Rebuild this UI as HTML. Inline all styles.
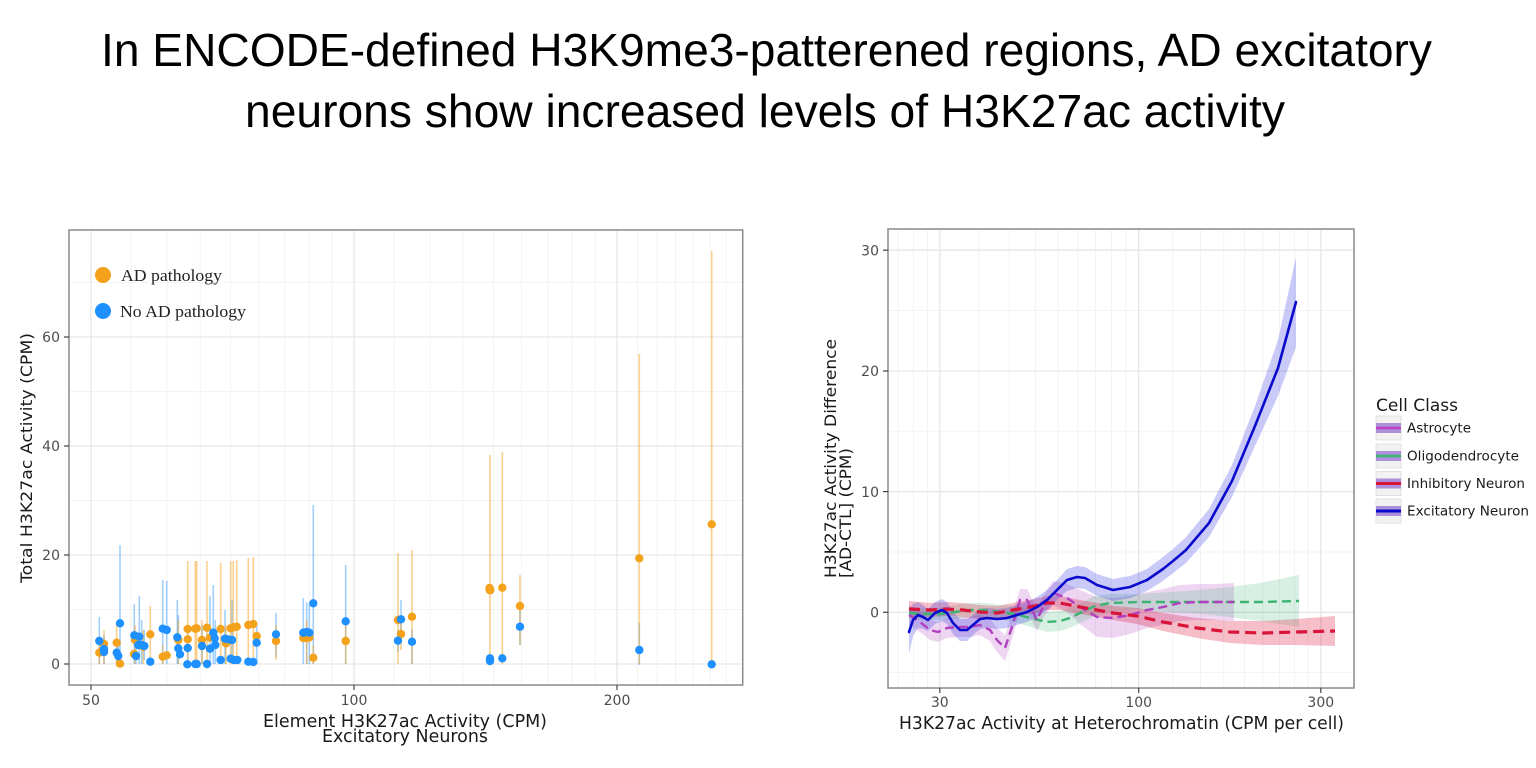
<!DOCTYPE html>
<html>
<head>
<meta charset="utf-8">
<style>
html,body{margin:0;padding:0;background:#fff;}
svg{display:block;}
text{font-family:"DejaVu Sans","Liberation Sans",sans-serif;}
</style>
</head>
<body>
<svg width="1536" height="768" viewBox="0 0 1536 768" xmlns="http://www.w3.org/2000/svg">
<rect width="1536" height="768" fill="#fff"/>

<!-- Title -->
<text x="101" y="66" font-family="Liberation Sans, sans-serif" font-size="46" fill="#000" textLength="1331" lengthAdjust="spacingAndGlyphs" style="font-family:'Liberation Sans',sans-serif">In ENCODE-defined H3K9me3-patterened regions, AD excitatory</text>
<text x="245" y="127" font-size="46" fill="#000" textLength="1040" lengthAdjust="spacingAndGlyphs" style="font-family:'Liberation Sans',sans-serif">neurons show increased levels of H3K27ac activity</text>

<!-- ================= LEFT PLOT ================= -->
<g>
<!-- minor grid -->
<g stroke="#f3f3f3" stroke-width="1">
<line x1="69" y1="609.5" x2="742.7" y2="609.5"/>
<line x1="69" y1="500.5" x2="742.7" y2="500.5"/>
<line x1="69" y1="391.5" x2="742.7" y2="391.5"/>
<line x1="69" y1="282.5" x2="742.7" y2="282.5"/>
<line x1="131" y1="230" x2="131" y2="685"/>
<line x1="167.1" y1="230" x2="167.1" y2="685"/>
<line x1="200.2" y1="230" x2="200.2" y2="685"/>
<line x1="230.5" y1="230" x2="230.5" y2="685"/>
<line x1="258.7" y1="230" x2="258.7" y2="685"/>
<line x1="284.8" y1="230" x2="284.8" y2="685"/>
<line x1="309.3" y1="230" x2="309.3" y2="685"/>
<line x1="332.3" y1="230" x2="332.3" y2="685"/>
<line x1="394" y1="230" x2="394" y2="685"/>
<line x1="430.2" y1="230" x2="430.2" y2="685"/>
<line x1="463.1" y1="230" x2="463.1" y2="685"/>
<line x1="493.5" y1="230" x2="493.5" y2="685"/>
<line x1="521.6" y1="230" x2="521.6" y2="685"/>
<line x1="547.8" y1="230" x2="547.8" y2="685"/>
<line x1="572.3" y1="230" x2="572.3" y2="685"/>
<line x1="595.3" y1="230" x2="595.3" y2="685"/>
<line x1="637.5" y1="230" x2="637.5" y2="685"/>
<line x1="657" y1="230" x2="657" y2="685"/>
<line x1="675.5" y1="230" x2="675.5" y2="685"/>
<line x1="693.1" y1="230" x2="693.1" y2="685"/>
<line x1="710.1" y1="230" x2="710.1" y2="685"/>
<line x1="726.2" y1="230" x2="726.2" y2="685"/>
</g>
<!-- major grid -->
<g stroke="#e6e6e6" stroke-width="1.3">
<line x1="69" y1="664" x2="742.7" y2="664"/>
<line x1="69" y1="555" x2="742.7" y2="555"/>
<line x1="69" y1="446" x2="742.7" y2="446"/>
<line x1="69" y1="337" x2="742.7" y2="337"/>
<line x1="91" y1="230" x2="91" y2="685"/>
<line x1="354" y1="230" x2="354" y2="685"/>
<line x1="617" y1="230" x2="617" y2="685"/>
</g>

<!-- error bars blue -->
<g stroke="#1e90ff" stroke-opacity="0.42" stroke-width="1.6">
<line x1="99.3" y1="617" x2="99.3" y2="664"/>
<line x1="104" y1="635" x2="104" y2="664"/>
<line x1="116.7" y1="640" x2="116.7" y2="664"/>
<line x1="118.3" y1="645" x2="118.3" y2="664"/>
<line x1="120" y1="545" x2="120" y2="664"/>
<line x1="134.3" y1="604" x2="134.3" y2="664"/>
<line x1="136" y1="640" x2="136" y2="664"/>
<line x1="139.3" y1="596" x2="139.3" y2="664"/>
<line x1="141.7" y1="620" x2="141.7" y2="664"/>
<line x1="144.3" y1="630" x2="144.3" y2="660"/>
<line x1="162.7" y1="580" x2="162.7" y2="664"/>
<line x1="166.7" y1="581" x2="166.7" y2="664"/>
<line x1="177.3" y1="600" x2="177.3" y2="664"/>
<line x1="178.3" y1="615" x2="178.3" y2="664"/>
<line x1="187.7" y1="630" x2="187.7" y2="664"/>
<line x1="202" y1="625" x2="202" y2="664"/>
<line x1="210" y1="596" x2="210" y2="664"/>
<line x1="213.3" y1="585" x2="213.3" y2="664"/>
<line x1="215.3" y1="620" x2="215.3" y2="664"/>
<line x1="225" y1="610" x2="225" y2="664"/>
<line x1="232" y1="600" x2="232" y2="664"/>
<line x1="256.7" y1="625" x2="256.7" y2="664"/>
<line x1="276" y1="613" x2="276" y2="657"/>
<line x1="303.3" y1="598" x2="303.3" y2="664"/>
<line x1="306.7" y1="602" x2="306.7" y2="664"/>
<line x1="309.3" y1="604" x2="309.3" y2="664"/>
<line x1="313.3" y1="505" x2="313.3" y2="664"/>
<line x1="345.7" y1="565" x2="345.7" y2="664"/>
<line x1="401" y1="600" x2="401" y2="640"/>
<line x1="398" y1="630" x2="398" y2="652"/>
<line x1="412" y1="630" x2="412" y2="664"/>
<line x1="520" y1="610" x2="520" y2="645"/>
<line x1="639.3" y1="623" x2="639.3" y2="665"/>
</g>
<!-- error bars orange -->
<g stroke="#f4a21c" stroke-opacity="0.5" stroke-width="1.6">
<line x1="99.3" y1="640" x2="99.3" y2="664"/>
<line x1="104" y1="630" x2="104" y2="664"/>
<line x1="116.7" y1="625" x2="116.7" y2="664"/>
<line x1="135" y1="625" x2="135" y2="664"/>
<line x1="143.3" y1="630" x2="143.3" y2="664"/>
<line x1="150.3" y1="606" x2="150.3" y2="664"/>
<line x1="162.7" y1="645" x2="162.7" y2="664"/>
<line x1="178.3" y1="620" x2="178.3" y2="664"/>
<line x1="187.7" y1="561" x2="187.7" y2="664"/>
<line x1="195.3" y1="561" x2="195.3" y2="664"/>
<line x1="196.7" y1="561" x2="196.7" y2="664"/>
<line x1="202" y1="620" x2="202" y2="664"/>
<line x1="207" y1="561" x2="207" y2="664"/>
<line x1="220.7" y1="563" x2="220.7" y2="664"/>
<line x1="226" y1="625" x2="226" y2="664"/>
<line x1="230.7" y1="561" x2="230.7" y2="664"/>
<line x1="233.3" y1="561" x2="233.3" y2="664"/>
<line x1="236.7" y1="560" x2="236.7" y2="664"/>
<line x1="248.3" y1="558" x2="248.3" y2="664"/>
<line x1="253.3" y1="557" x2="253.3" y2="664"/>
<line x1="276" y1="625" x2="276" y2="660"/>
<line x1="306.7" y1="620" x2="306.7" y2="664"/>
<line x1="313.3" y1="645" x2="313.3" y2="664"/>
<line x1="345.7" y1="620" x2="345.7" y2="664"/>
<line x1="398" y1="553" x2="398" y2="664"/>
<line x1="401" y1="620" x2="401" y2="650"/>
<line x1="412" y1="550" x2="412" y2="664"/>
<line x1="490" y1="455" x2="490" y2="664"/>
<line x1="502.3" y1="452" x2="502.3" y2="664"/>
<line x1="520" y1="575" x2="520" y2="645"/>
<line x1="639.3" y1="354" x2="639.3" y2="664"/>
<line x1="711.7" y1="251" x2="711.7" y2="664"/>
</g>

<!-- orange points -->
<g fill="#f4a21c">
<circle cx="99.3" cy="652.7" r="4.2"/>
<circle cx="104" cy="644" r="4.2"/>
<circle cx="116.7" cy="642.7" r="4.2"/>
<circle cx="120" cy="663.7" r="4.2"/>
<circle cx="135" cy="640" r="4.2"/>
<circle cx="134" cy="654" r="4.2"/>
<circle cx="143.3" cy="646.7" r="4.2"/>
<circle cx="150.3" cy="634.3" r="4.2"/>
<circle cx="162.7" cy="656.7" r="4.2"/>
<circle cx="166.7" cy="655.3" r="4.2"/>
<circle cx="178.3" cy="640" r="4.2"/>
<circle cx="187.7" cy="629" r="4.2"/>
<circle cx="187.7" cy="639.3" r="4.2"/>
<circle cx="195.3" cy="628.7" r="4.2"/>
<circle cx="196.7" cy="628.3" r="4.2"/>
<circle cx="202" cy="640" r="4.2"/>
<circle cx="207" cy="627.7" r="4.2"/>
<circle cx="210" cy="637.7" r="4.2"/>
<circle cx="220.7" cy="629" r="4.2"/>
<circle cx="226" cy="643.3" r="4.2"/>
<circle cx="230.7" cy="628.3" r="4.2"/>
<circle cx="233.3" cy="627.3" r="4.2"/>
<circle cx="236.7" cy="626.7" r="4.2"/>
<circle cx="248.3" cy="625" r="4.2"/>
<circle cx="253.3" cy="624" r="4.2"/>
<circle cx="256.7" cy="636" r="4.2"/>
<circle cx="276" cy="641" r="4.2"/>
<circle cx="303.3" cy="638" r="4.2"/>
<circle cx="306.7" cy="638" r="4.2"/>
<circle cx="309.3" cy="637.5" r="4.2"/>
<circle cx="313.3" cy="657.7" r="4.2"/>
<circle cx="345.7" cy="641" r="4.2"/>
<circle cx="398" cy="620" r="4.2"/>
<circle cx="401" cy="634" r="4.2"/>
<circle cx="412" cy="616.7" r="4.2"/>
<circle cx="490" cy="590" r="4.5"/>
<circle cx="489.5" cy="588" r="4.2"/>
<circle cx="502.3" cy="587.7" r="4.2"/>
<circle cx="520" cy="606" r="4.2"/>
<circle cx="639.3" cy="558.3" r="4.2"/>
<circle cx="711.7" cy="524.3" r="4.2"/>
</g>
<!-- blue points -->
<g fill="#1e90ff">
<circle cx="99.3" cy="641" r="4.2"/>
<circle cx="104" cy="652" r="4.2"/>
<circle cx="104" cy="649" r="4.2"/>
<circle cx="116.7" cy="652.7" r="4.2"/>
<circle cx="118.3" cy="656" r="4.2"/>
<circle cx="120" cy="623.3" r="4.2"/>
<circle cx="134.3" cy="635.3" r="4.2"/>
<circle cx="136" cy="656" r="4.2"/>
<circle cx="139.3" cy="636.7" r="4.2"/>
<circle cx="138.3" cy="645" r="4.2"/>
<circle cx="141.7" cy="645" r="4.2"/>
<circle cx="144.3" cy="646" r="4.2"/>
<circle cx="150.3" cy="661.7" r="4.2"/>
<circle cx="162.7" cy="628.7" r="4.2"/>
<circle cx="166.7" cy="630" r="4.2"/>
<circle cx="177.3" cy="637.3" r="4.2"/>
<circle cx="178.3" cy="648.3" r="4.2"/>
<circle cx="180" cy="654.3" r="4.2"/>
<circle cx="187.7" cy="648" r="4.2"/>
<circle cx="187.3" cy="664.3" r="4.2"/>
<circle cx="195.3" cy="664" r="4.2"/>
<circle cx="196.7" cy="664" r="4.2"/>
<circle cx="202" cy="646" r="4.2"/>
<circle cx="207" cy="664" r="4.2"/>
<circle cx="210" cy="648.7" r="4.2"/>
<circle cx="213.3" cy="632.7" r="4.2"/>
<circle cx="214.7" cy="638.3" r="4.2"/>
<circle cx="215.3" cy="645" r="4.2"/>
<circle cx="220.7" cy="660" r="4.2"/>
<circle cx="225" cy="638.7" r="4.2"/>
<circle cx="228" cy="639.3" r="4.2"/>
<circle cx="232" cy="640" r="4.2"/>
<circle cx="230.7" cy="658.7" r="4.2"/>
<circle cx="234" cy="660" r="4.2"/>
<circle cx="237.3" cy="660" r="4.2"/>
<circle cx="248.3" cy="661.7" r="4.2"/>
<circle cx="253.3" cy="662" r="4.2"/>
<circle cx="256.7" cy="642.7" r="4.2"/>
<circle cx="276" cy="634.3" r="4.2"/>
<circle cx="303.3" cy="632.7" r="4.2"/>
<circle cx="306.7" cy="632" r="4.2"/>
<circle cx="309.3" cy="632.7" r="4.2"/>
<circle cx="313.3" cy="603.3" r="4.2"/>
<circle cx="345.7" cy="621.3" r="4.2"/>
<circle cx="401" cy="619.3" r="4.2"/>
<circle cx="398" cy="640.7" r="4.2"/>
<circle cx="412" cy="641.7" r="4.2"/>
<circle cx="490" cy="658.3" r="4.2"/>
<circle cx="490" cy="661" r="4.2"/>
<circle cx="502.3" cy="658.3" r="4.2"/>
<circle cx="520" cy="626.7" r="4.2"/>
<circle cx="639.3" cy="650" r="4.2"/>
<circle cx="711.7" cy="664.3" r="4.2"/>
</g>

<!-- frame -->
<rect x="69" y="230" width="673.7" height="455" fill="none" stroke="#8a8a8a" stroke-width="1.5"/>
<!-- ticks -->
<g stroke="#444" stroke-width="1.2">
<line x1="64" y1="664" x2="69" y2="664"/>
<line x1="64" y1="555" x2="69" y2="555"/>
<line x1="64" y1="446" x2="69" y2="446"/>
<line x1="64" y1="337" x2="69" y2="337"/>
<line x1="91" y1="685" x2="91" y2="690"/>
<line x1="354" y1="685" x2="354" y2="690"/>
<line x1="617" y1="685" x2="617" y2="690"/>
</g>
<g font-size="14" fill="#4d4d4d">
<text x="60" y="669" text-anchor="end">0</text>
<text x="60" y="560" text-anchor="end">20</text>
<text x="60" y="451" text-anchor="end">40</text>
<text x="60" y="342" text-anchor="end">60</text>
<text x="91" y="705" text-anchor="middle">50</text>
<text x="354" y="705" text-anchor="middle">100</text>
<text x="617" y="705" text-anchor="middle">200</text>
</g>
<text x="405" y="727" font-size="18" fill="#1a1a1a" text-anchor="middle" textLength="284" lengthAdjust="spacingAndGlyphs">Element H3K27ac Activity (CPM)</text>
<text x="405" y="742" font-size="18" fill="#1a1a1a" text-anchor="middle" textLength="166" lengthAdjust="spacingAndGlyphs">Excitatory Neurons</text>
<text transform="translate(32,458) rotate(-90)" x="0" y="0" font-size="16" fill="#1a1a1a" text-anchor="middle" textLength="250" lengthAdjust="spacingAndGlyphs">Total H3K27ac Activity (CPM)</text>

<!-- legend -->
<circle cx="103" cy="275" r="8" fill="#f4a21c"/>
<circle cx="103" cy="311" r="8" fill="#1e90ff"/>
<text x="121" y="281" font-size="17" fill="#222" textLength="101" lengthAdjust="spacingAndGlyphs" style="font-family:'Liberation Serif',serif">AD pathology</text>
<text x="120" y="317" font-size="17" fill="#222" textLength="126" lengthAdjust="spacingAndGlyphs" style="font-family:'Liberation Serif',serif">No AD pathology</text>
</g>

<!-- ================= RIGHT PLOT ================= -->
<g>
<g stroke="#f3f3f3" stroke-width="1">
<line x1="888" y1="310.6" x2="1354" y2="310.6"/>
<line x1="888" y1="431.3" x2="1354" y2="431.3"/>
<line x1="888" y1="552" x2="1354" y2="552"/>
<line x1="888" y1="672.6" x2="1354" y2="672.6"/>
<line x1="898" y1="229" x2="898" y2="688"/>
<line x1="913.5" y1="229" x2="913.5" y2="688"/>
<line x1="927.5" y1="229" x2="927.5" y2="688"/>
<line x1="979" y1="229" x2="979" y2="688"/>
<line x1="1009.3" y1="229" x2="1009.3" y2="688"/>
<line x1="1035.5" y1="229" x2="1035.5" y2="688"/>
<line x1="1058.2" y1="229" x2="1058.2" y2="688"/>
<line x1="1078" y1="229" x2="1078" y2="688"/>
<line x1="1095.5" y1="229" x2="1095.5" y2="688"/>
<line x1="1111.5" y1="229" x2="1111.5" y2="688"/>
<line x1="1126" y1="229" x2="1126" y2="688"/>
<line x1="1172.8" y1="229" x2="1172.8" y2="688"/>
<line x1="1200.5" y1="229" x2="1200.5" y2="688"/>
<line x1="1223.8" y1="229" x2="1223.8" y2="688"/>
<line x1="1244.5" y1="229" x2="1244.5" y2="688"/>
<line x1="1263" y1="229" x2="1263" y2="688"/>
<line x1="1279.5" y1="229" x2="1279.5" y2="688"/>
<line x1="1294.5" y1="229" x2="1294.5" y2="688"/>
<line x1="1308.3" y1="229" x2="1308.3" y2="688"/>
</g>
<g stroke="#e6e6e6" stroke-width="1.3">
<line x1="888" y1="250.2" x2="1354" y2="250.2"/>
<line x1="888" y1="371" x2="1354" y2="371"/>
<line x1="888" y1="491.6" x2="1354" y2="491.6"/>
<line x1="888" y1="612.3" x2="1354" y2="612.3"/>
<line x1="939.8" y1="229" x2="939.8" y2="688"/>
<line x1="1138.7" y1="229" x2="1138.7" y2="688"/>
<line x1="1320.8" y1="229" x2="1320.8" y2="688"/>
</g>

<!-- bands -->
<polygon fill="#b040c0" fill-opacity="0.22" points="909,605 920,612 930,620 938,622 947,618 957,617 970,617 980,615 990,619 997,628 1005,635 1012,615 1020,589 1027,589 1037,609 1043,596 1053,581 1067,584 1080,590 1097,597 1113,598 1130,596 1147,592 1163,589 1180,585 1197,584 1217,584 1234,583 1234,621 1217,620 1197,620 1180,621 1163,625 1147,628 1130,634 1113,638 1097,637 1080,624 1067,612 1053,605 1043,618 1037,631 1027,611 1020,611 1012,639 1005,661 997,652 990,641 980,635 970,637 957,637 947,638 938,642 930,640 920,632 909,625"/>
<polygon fill="#3cb371" fill-opacity="0.2" points="909,607 925,608 940,608 955,605 970,603 985,603 1000,605 1015,606 1030,609 1047,612 1060,611 1070,608 1080,603 1095,596 1110,594 1140,594 1170,592 1200,590 1230,587 1260,583 1299,575 1299,627 1260,621 1230,617 1200,614 1170,612 1140,610 1110,612 1095,616 1080,623 1070,628 1060,631 1047,632 1030,627 1015,622 1000,619 985,617 970,617 955,619 940,620 925,620 909,619"/>
<polygon fill="#dc143c" fill-opacity="0.28" points="909,601 930,603 947,602 963,603 980,605 997,606 1013,603 1030,600 1047,596 1060,596 1080,600 1097,603 1113,606 1137,608 1163,613 1197,618 1230,621 1263,621 1297,619 1335,616 1335,646 1297,645 1263,645 1230,643 1197,638 1163,631 1137,624 1113,620 1097,617 1080,614 1060,610 1047,610 1030,614 1013,617 997,620 980,619 963,617 947,616 930,617 909,617"/>
<polygon fill="#2020e0" fill-opacity="0.24" points="909,610 913,604 918,602 923,605 928,609 935,602 942,599 947,602 953,612 960,619 967,619 973,615 980,609 987,608 997,609 1007,608 1017,605 1027,602 1037,597 1047,590 1057,580 1067,569 1077,566 1085,567 1097,574 1113,579 1130,576 1147,569 1163,557 1173,549 1186,537 1209,509 1232,465 1255,406 1278,340 1296,257 1296,347 1278,396 1255,446 1232,497 1209,537 1186,563 1173,573 1163,581 1147,591 1130,598 1113,601 1097,596 1085,589 1077,588 1067,591 1057,600 1047,610 1037,617 1027,622 1017,625 1007,628 997,629 987,628 980,629 973,635 967,641 960,641 953,634 947,624 942,621 935,624 928,631 923,629 918,628 913,636 909,654"/>

<!-- lines -->
<polyline fill="none" stroke="#3cb371" stroke-width="2.4" stroke-dasharray="9,5" stroke-linejoin="round" points="909,613 925,614 940,614 955,612 970,610 985,610 1000,612 1015,614 1030,618 1047,622 1060,621 1070,618 1080,613 1095,606 1110,603 1140,602 1170,602 1200,602 1230,602 1260,602 1299,601"/>
<polyline fill="none" stroke="#b040c0" stroke-width="2.4" stroke-dasharray="9,5" stroke-linejoin="round" points="909,615 920,622 930,630 938,632 947,628 957,627 970,627 980,625 990,630 997,640 1005,648 1012,627 1020,600 1027,600 1037,620 1043,607 1053,593 1067,598 1080,607 1097,617 1113,618 1130,615 1147,610 1163,607 1180,603 1197,602 1217,602 1234,602"/>
<polyline fill="none" stroke="#d8143a" stroke-width="3.2" stroke-dasharray="11,6" stroke-linejoin="round" points="909,609 930,610 947,609 963,610 980,612 997,613 1013,610 1030,607 1047,603 1060,603 1080,607 1097,610 1113,613 1137,616 1163,622 1197,628 1230,632 1263,633 1297,632 1335,631"/>
<polyline fill="none" stroke="#0a0acc" stroke-width="2.6" stroke-linejoin="round" stroke-linecap="round" points="909,632 913,620 918,615 923,617 928,620 935,613 942,610 947,613 953,623 960,630 967,630 973,625 980,619 987,618 997,619 1007,618 1017,615 1027,612 1037,607 1047,600 1057,590 1067,580 1077,577 1085,578 1097,585 1113,590 1130,587 1147,580 1163,569 1173,561 1186,550 1209,523 1232,481 1255,426 1278,368 1296,302"/>

<rect x="888" y="229" width="466" height="459" fill="none" stroke="#8a8a8a" stroke-width="1.5"/>
<g stroke="#444" stroke-width="1.2">
<line x1="883" y1="250.2" x2="888" y2="250.2"/>
<line x1="883" y1="371" x2="888" y2="371"/>
<line x1="883" y1="491.6" x2="888" y2="491.6"/>
<line x1="883" y1="612.3" x2="888" y2="612.3"/>
<line x1="939.8" y1="688" x2="939.8" y2="693"/>
<line x1="1138.7" y1="688" x2="1138.7" y2="693"/>
<line x1="1320.8" y1="688" x2="1320.8" y2="693"/>
</g>
<g font-size="14" fill="#4d4d4d">
<text x="879" y="255.5" text-anchor="end">30</text>
<text x="879" y="376" text-anchor="end">20</text>
<text x="879" y="497" text-anchor="end">10</text>
<text x="879" y="617.5" text-anchor="end">0</text>
<text x="939.8" y="707" text-anchor="middle">30</text>
<text x="1138.7" y="707" text-anchor="middle">100</text>
<text x="1320.8" y="707" text-anchor="middle">300</text>
</g>
<text x="1121.5" y="729" font-size="18" fill="#1a1a1a" text-anchor="middle" textLength="445" lengthAdjust="spacingAndGlyphs">H3K27ac Activity at Heterochromatin (CPM per cell)</text>
<text transform="translate(836,578) rotate(-90)" x="0" y="0" font-size="16" fill="#1a1a1a" textLength="239" lengthAdjust="spacingAndGlyphs">H3K27ac Activity Difference</text>
<text transform="translate(851,578) rotate(-90)" x="0" y="0" font-size="16" fill="#1a1a1a" textLength="130" lengthAdjust="spacingAndGlyphs">[AD-CTL] (CPM)</text>

<!-- legend -->
<text x="1376" y="411" font-size="17" fill="#1a1a1a" textLength="82" lengthAdjust="spacingAndGlyphs">Cell Class</text>
<g>
<rect x="1376" y="416" width="25" height="24" fill="#f2f2f2" stroke="#e0e0e0" stroke-width="1"/>
<rect x="1376" y="423" width="25" height="10" fill="#a07fd6" fill-opacity="0.85"/>
<line x1="1376" y1="428" x2="1401" y2="428" stroke="#c040c8" stroke-width="2.5"/>
<rect x="1376" y="444" width="25" height="24" fill="#f2f2f2" stroke="#e0e0e0" stroke-width="1"/>
<rect x="1376" y="451" width="25" height="10" fill="#a07fd6" fill-opacity="0.85"/>
<line x1="1376" y1="456" x2="1401" y2="456" stroke="#3cb371" stroke-width="2.5"/>
<rect x="1376" y="471.5" width="25" height="24" fill="#f2f2f2" stroke="#e0e0e0" stroke-width="1"/>
<rect x="1376" y="478.5" width="25" height="10" fill="#a07fd6" fill-opacity="0.85"/>
<line x1="1376" y1="483.5" x2="1401" y2="483.5" stroke="#d8143a" stroke-width="3"/>
<rect x="1376" y="499" width="25" height="24" fill="#f2f2f2" stroke="#e0e0e0" stroke-width="1"/>
<rect x="1376" y="506" width="25" height="10" fill="#a07fd6" fill-opacity="0.85"/>
<line x1="1376" y1="511" x2="1401" y2="511" stroke="#0a0acc" stroke-width="3"/>
</g>
<g font-size="13" fill="#1a1a1a">
<text x="1407" y="432.5" textLength="64" lengthAdjust="spacingAndGlyphs">Astrocyte</text>
<text x="1407" y="460.5" textLength="112" lengthAdjust="spacingAndGlyphs">Oligodendrocyte</text>
<text x="1407" y="488" textLength="118" lengthAdjust="spacingAndGlyphs">Inhibitory Neuron</text>
<text x="1407" y="515.5" textLength="122" lengthAdjust="spacingAndGlyphs">Excitatory Neuron</text>
</g>
</g>
</svg>
</body>
</html>
